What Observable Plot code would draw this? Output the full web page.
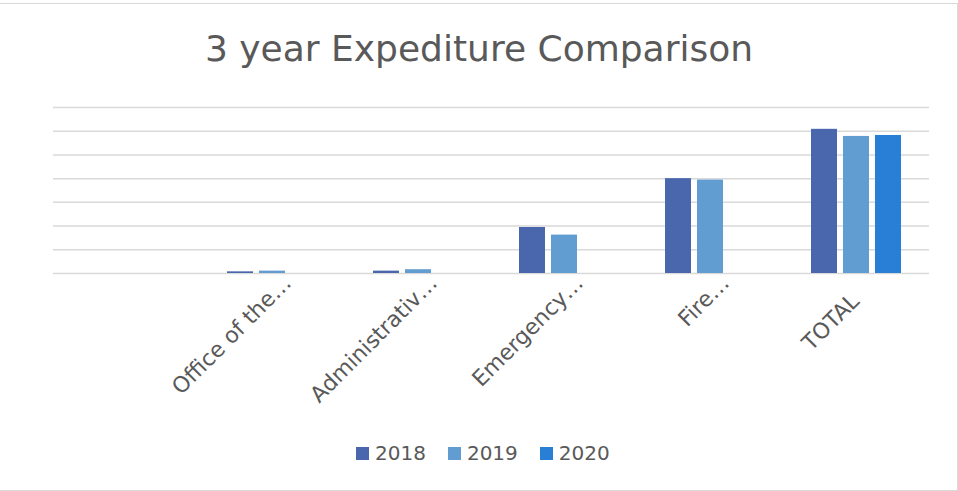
<!DOCTYPE html>
<html><head><meta charset="utf-8">
<script src="https://cdn.jsdelivr.net/npm/d3@7"></script>
<script src="https://cdn.jsdelivr.net/npm/@observablehq/plot@0.6"></script>
<style>
html,body{margin:0;padding:0;background:#fff;}
#wrap{position:relative;width:958px;height:491px;overflow:hidden;font-family:"DejaVu Sans",sans-serif;color:#595959;background:#fff;}
#frame{position:absolute;left:-2px;top:3px;width:960px;height:488px;border:1px solid #d9d9d9;box-sizing:border-box;}
#title{position:absolute;left:0;top:31px;width:958px;text-align:center;font-size:36px;line-height:36px;white-space:nowrap;}
#chart{position:absolute;left:0;top:0;}
#legend{position:absolute;left:356px;top:443px;display:flex;align-items:center;font-size:20px;line-height:21px;white-space:nowrap;}
.item{display:flex;align-items:center;margin-right:22px;}
.sw{width:13px;height:13px;margin-right:6px;}
</style>
</head><body>
<div id="wrap">
  <div id="frame"></div>
  <div id="chart"></div>
  <div id="title">3 year Expediture Comparison</div>
  <div id="legend"></div>
</div>
<script>
// Data (units = gridline steps)
const categories = ["", "Office of the…", "Administrativ…", "Emergency…", "Fire…", "TOTAL"];
const years = ["2018", "2019", "2020"];
const values2018 = [null, 0.07, 0.10, 1.94, 4.00, 6.08];
const values2019 = [null, 0.10, 0.16, 1.62, 3.94, 5.78];
const values2020 = [null, null, null, null, null, 5.82];
const gridValues = [0, 1, 2, 3, 4, 5, 6, 7];
const colors = ["#4a66ac", "#629dd1", "#297fd5"];

const series = [values2018, values2019, values2020];
const rows = [];
years.forEach((yr, i) => {
  categories.forEach((c, j) => {
    const v = series[i][j];
    if (v != null) rows.push({category: c, year: yr, value: v});
  });
});

const truncated = categories.filter(c => c !== "TOTAL");
const whole = categories.filter(c => c === "TOTAL");

const chart = Plot.plot({
  width: 958,
  height: 430,
  marginTop: 107,
  marginBottom: 157,
  marginLeft: 53,
  marginRight: 29,
  style: {fontFamily: "DejaVu Sans, sans-serif", color: "#595959", background: "transparent", overflow: "visible"},
  x: {domain: categories, paddingInner: 0.822, paddingOuter: 0.411},
  y: {domain: [0, 7], axis: null},
  color: {domain: years, range: colors},
  marks: [
    Plot.ruleY(gridValues, {stroke: "#d9d9d9", strokeWidth: 1.5}),
    ...years.map((yr, i) => Plot.barY(rows.filter(d => d.year === yr), {
      x: "category", y: "value", fill: "year", dx: (i - 1) * 32
    })),
    Plot.axisX({ticks: truncated, tickRotate: -45, tickSize: 0, tickPadding: 0, dx: 15, dy: 6, fontSize: 22, fill: "#595959", label: null}),
    Plot.axisX({ticks: whole, tickRotate: -45, tickSize: 0, tickPadding: 0, dx: -1, dy: 24, fontSize: 22, fill: "#595959", label: null})
  ]
});
document.getElementById("chart").appendChild(chart);

const legend = document.getElementById("legend");
years.forEach((yr, i) => {
  const it = document.createElement("div");
  it.className = "item";
  const sw = document.createElement("div");
  sw.className = "sw";
  sw.style.background = colors[i];
  const t = document.createElement("span");
  t.textContent = yr;
  it.appendChild(sw);
  it.appendChild(t);
  legend.appendChild(it);
});
</script>
</body></html>
